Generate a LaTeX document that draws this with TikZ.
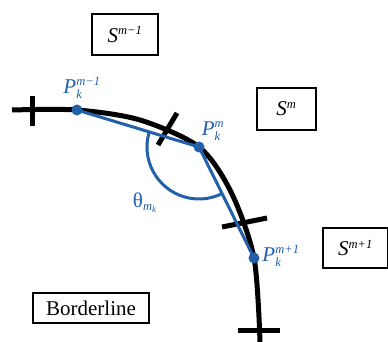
\documentclass[tikz,border=0pt]{standalone}
\usepackage{fontspec}
\setmainfont{Liberation Serif}
\usepackage{amsmath}
\DeclareMathSizes{21}{21}{12.5}{9}
\definecolor{bl}{RGB}{34,96,170}
\newcommand{\lbl}[3]{\textit{#1}$^{\text{\itshape #2}}_{\text{\itshape #3}}$}
\tikzset{
  region/.style={draw=black, line width=1.3pt, inner sep=0pt, font=\fontsize{21}{25}\selectfont},
  curve/.style={line width=5pt, black},
  tick/.style={line width=5pt, black},
  chord/.style={line width=3pt, bl},
  ptdot/.style={circle, fill=bl, inner sep=0pt, minimum size=11pt},
  ptlbl/.style={text=bl, inner sep=0pt, font=\fontsize{21}{25}\selectfont}
}
\begin{document}
\begin{tikzpicture}[x=1pt,y=-1pt]
\useasboundingbox[fill=white] (0,0) rectangle (388,342);
% regions
\node[region, minimum width=66pt, minimum height=41pt] (sm1) at (125,34.5) {\textit{S}$^{\text{\itshape m−1}}$};
\node[region, minimum width=59pt, minimum height=42pt] (sm) at (286.5,109) {\textit{S}$^{\text{\itshape m}}$};
\node[region, minimum width=65pt, minimum height=40pt] (sp1) at (355.5,248) {\textit{S}$^{\text{\itshape m+1}}$};
\node[region, minimum width=116pt, minimum height=30pt] (bord) at (91,308) {Borderline};
% borderline curve
\coordinate (c0) at (12,110);
\coordinate (Pa) at (77,110);
\coordinate (Pb) at (199,147);
\coordinate (Pc) at (254,258);
\coordinate (c9) at (260,342);
\draw[curve] plot[smooth, tension=0.5] coordinates {(12,110) (77,110) (140,120) (199,147) (231,192) (254,258) (260,342)};
% ticks
\coordinate (t1a) at (32,96); \coordinate (t1b) at (32,126);
\coordinate (t2a) at (177,113); \coordinate (t2b) at (158,145);
\coordinate (t3a) at (222,227); \coordinate (t3b) at (267,218);
\coordinate (t4a) at (238,330); \coordinate (t4b) at (280,330);
\draw[tick] (t1a) -- (t1b);
\draw[tick] (t2a) -- (t2b);
\draw[tick] (t3a) -- (t3b);
\draw[tick] (t4a) -- (t4b);
% chords
\draw[chord] (Pa) -- (Pb) -- (Pc);
\draw[chord] (Pb) ++(197:52) arc[start angle=197, end angle=63.6, radius=52];
\node[ptdot] (da) at (Pa) {};
\node[ptdot] (db) at (Pb) {};
\node[ptdot] (dc) at (Pc) {};
% labels
\node[ptlbl] (la) at (82,88) {\lbl{P}{m−1}{k}};
\node[ptlbl] (lb) at (213,131) {\lbl{P}{m}{k}};
\node[ptlbl] (lc) at (281,256) {\lbl{P}{m+1}{k}};
\node[ptlbl] (th) at (145,203) {θ$_{\text{\itshape m}_{\text{\itshape k}}}$};
\end{tikzpicture}
\end{document}
